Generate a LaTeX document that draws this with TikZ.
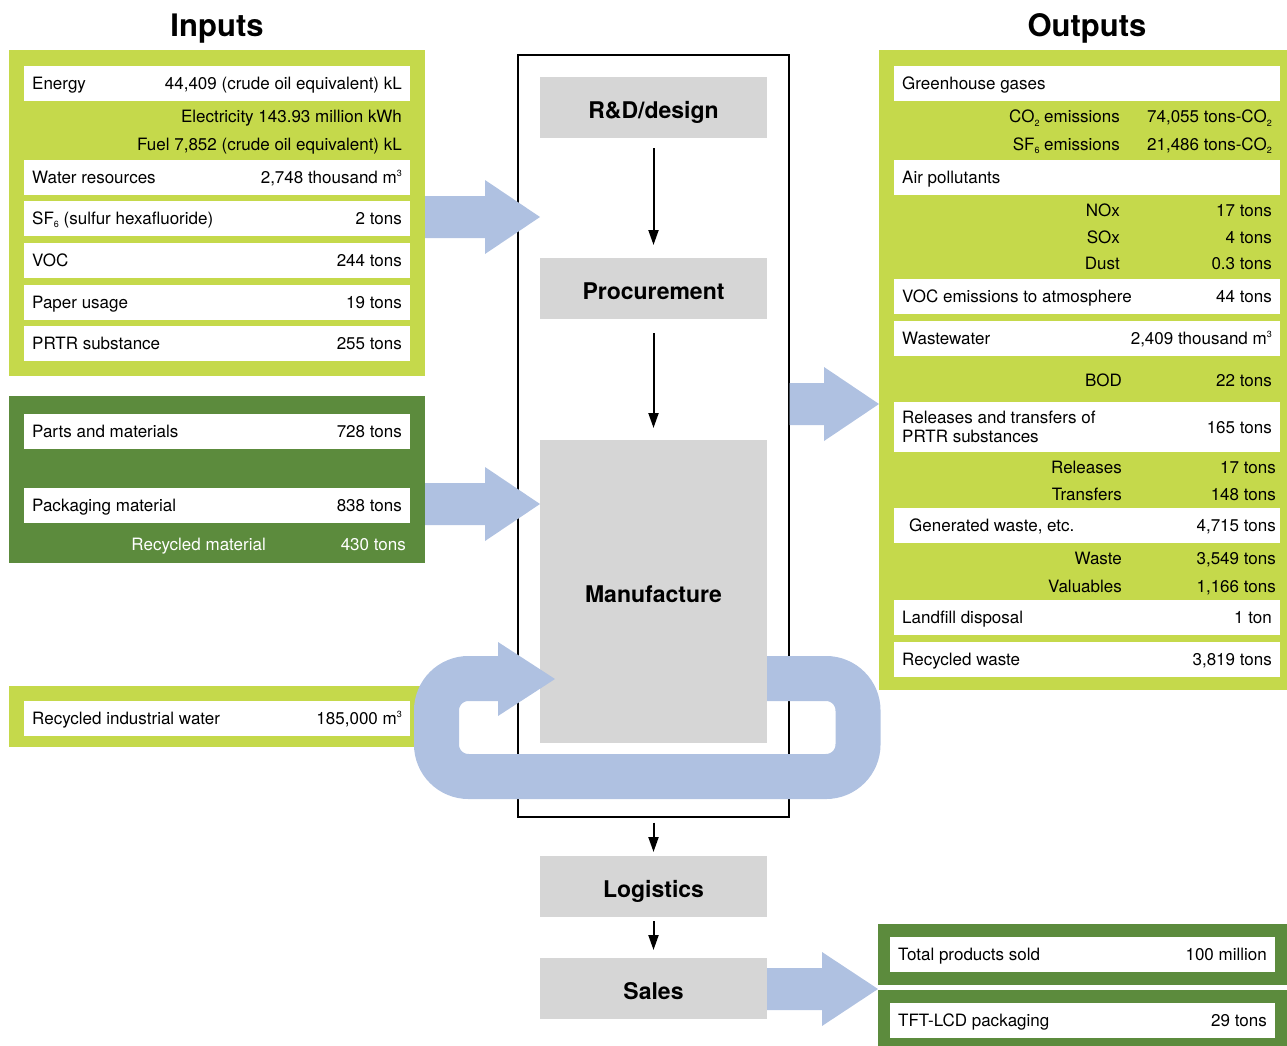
\documentclass[tikz,border=0pt]{standalone}
\usepackage{fontspec}
\setmainfont{TeX Gyre Heros}
\usetikzlibrary{arrows.meta,calc}
\definecolor{lgreen}{HTML}{C5D94B}
\definecolor{dgreen}{HTML}{5C8B3D}
\definecolor{flowblue}{HTML}{AFC1E1}
\definecolor{procgray}{HTML}{D6D6D6}
\newcommand\bodyfont{\fontsize{17}{19.5}\selectfont}
\newcommand\procfont{\fontsize{23}{27}\selectfont\bfseries}
\newcommand\titlefont{\fontsize{31}{36}\selectfont\bfseries}
\newcommand\sbs[1]{\raisebox{-0.35ex}{\fontsize{9}{9}\selectfont #1}}
\newcommand\sps[1]{\raisebox{0.75ex}{\fontsize{9}{9}\selectfont #1}}
\newcommand\drow[6]{%
  \node[wrow, minimum width=#4pt] (#1) at (#2,#3) {};
  \node[lt] (#1-l) at ([xshift=8pt]#1.west) {#5};
  \node[rt] (#1-r) at ([xshift=-8pt]#1.east) {#6};}
\newcommand\blockarrow[4]{%
  \coordinate (ba-s) at (#1 |- 0,#3);
  \coordinate (ba-t) at (#2 |- 0,#3);
  \fill[flowblue] ($(ba-s)+(0,-21)$) -- ($(ba-t)+(-#4,-21)$) -- ($(ba-t)+(-#4,-37)$) -- (ba-t)
    -- ($(ba-t)+(-#4,37)$) -- ($(ba-t)+(-#4,21)$) -- ($(ba-s)+(0,21)$) -- cycle;}
\begin{document}
\begin{tikzpicture}[x=1pt,y=-1pt,
  panel/.style={anchor=north west, inner sep=0pt, outer sep=0pt},
  wrow/.style={fill=white, anchor=north west, inner sep=0pt, outer sep=0pt, minimum height=35pt},
  lt/.style={anchor=west, inner sep=0pt, font=\bodyfont, text height=12pt, text depth=0pt},
  rt/.style={anchor=east, inner sep=0pt, font=\bodyfont, text height=12pt, text depth=0pt},
  pbox/.style={fill=procgray, minimum width=227pt, minimum height=61pt, inner sep=0pt, outer sep=0pt,
    font=\procfont, text height=21pt, text depth=0pt},
  parr/.style={-{Triangle[length=15pt,width=10pt]}, line width=2pt},
  ttl/.style={anchor=base, font=\titlefont}]
\useasboundingbox (0,0) rectangle (1287,1046);

% titles
\node[ttl] (inputs) at (217,37) {Inputs};
\node[ttl] (outputs) at (1087,37) {Outputs};

% input panels
\node[panel, fill=lgreen, minimum width=416pt, minimum height=326pt] (in1) at (9,50) {};
\drow{energy}{24}{66}{386}{Energy}{44,409 (crude oil equivalent) kL}
\node[rt] (elec) at (402,117) {Electricity 143.93 million kWh};
\node[rt] (fuel) at (402,144) {Fuel 7,852 (crude oil equivalent) kL};
\drow{water}{24}{160}{386}{Water resources}{2,748 thousand m\sps{3}}
\drow{sfsix}{24}{201}{386}{SF\sbs{6} (sulfur hexafluoride)}{2 tons}
\drow{voc}{24}{243}{386}{VOC}{244 tons}
\drow{paper}{24}{285}{386}{Paper usage}{19 tons}
\drow{prtr}{24}{326}{386}{PRTR substance}{255 tons}

\node[panel, fill=dgreen, minimum width=416pt, minimum height=167pt] (in2) at (9,396) {};
\drow{parts}{24}{414}{386}{Parts and materials}{728 tons}
\drow{pack}{24}{488}{386}{Packaging material}{838 tons}
\node[rt, text=white] (recmat) at (266,544) {Recycled material};
\node[rt, text=white] (recmatv) at (406,544) {430 tons};

\node[panel, fill=lgreen, minimum width=416pt, minimum height=61pt] (in3) at (9,686) {};
\drow{rwater}{24}{701}{386}{Recycled industrial water}{185,000 m\sps{3}}

% output panel
\node[panel, fill=lgreen, minimum width=408pt, minimum height=640pt] (out) at (879,50) {};
\drow{ghg}{894}{66}{386}{Greenhouse gases}{}
\node[rt] (co2l) at (1120,117) {CO\sbs{2} emissions};
\node[rt] (co2v) at (1272,117) {74,055 tons-CO\sbs{2}};
\node[rt] (sf6l) at (1120,144) {SF\sbs{6} emissions};
\node[rt] (sf6v) at (1272,144) {21,486 tons-CO\sbs{2}};
\drow{air}{894}{160}{386}{Air pollutants}{}
\node[rt] (noxl) at (1120,210) {NOx};
\node[rt] (noxv) at (1272,210) {17 tons};
\node[rt] (soxl) at (1120,237) {SOx};
\node[rt] (soxv) at (1272,237) {4 tons};
\node[rt] (dustl) at (1120,263) {Dust};
\node[rt] (dustv) at (1272,263) {0.3 tons};
\drow{vocem}{894}{279}{386}{VOC emissions to atmosphere}{44 tons}
\drow{wwater}{894}{321}{386}{Wastewater}{2,409 thousand m\sps{3}}
\node[rt] (bodl) at (1122,380) {BOD};
\node[rt] (bodv) at (1272,380) {22 tons};
\node[wrow, minimum width=386pt, minimum height=50pt] (rel) at (894,402) {};
\node[anchor=west, inner sep=0pt, font=\bodyfont, align=left] (rel-l) at ([xshift=8pt]rel.west) {Releases and transfers of\\PRTR substances};
\node[rt] (rel-r) at ([xshift=-8pt]rel.east) {165 tons};
\node[rt] (relsl) at (1122,467) {Releases};
\node[rt] (relsv) at (1276,467) {17 tons};
\node[rt] (trfl) at (1122,494) {Transfers};
\node[rt] (trfv) at (1276,494) {148 tons};
\node[wrow, minimum width=386pt] (gen) at (894,508) {};
\node[lt] (gen-l) at ([xshift=15pt]gen.west) {Generated waste, etc.};
\node[rt] (gen-r) at ([xshift=-4pt]gen.east) {4,715 tons};
\node[rt] (wastel) at (1122,558) {Waste};
\node[rt] (wastev) at (1276,558) {3,549 tons};
\node[rt] (vall) at (1122,586) {Valuables};
\node[rt] (valv) at (1276,586) {1,166 tons};
\drow{landfill}{894}{600}{386}{Landfill disposal}{1 ton}
\drow{recw}{894}{642}{386}{Recycled waste}{3,819 tons}

% product panels
\node[panel, fill=dgreen, minimum width=409pt, minimum height=61pt] (prod1) at (878,924) {};
\drow{sold}{890}{937}{385}{Total products sold}{100 million}
\node[panel, fill=dgreen, minimum width=409pt, minimum height=56pt] (prod2) at (878,990) {};
\drow{tft}{890}{1003}{385}{TFT-LCD packaging}{29 tons}

% process frame and boxes
\node[draw, line width=1.3pt, minimum width=271pt, minimum height=762pt, inner sep=0pt] (frame) at (653.5,436) {};
\node[pbox] (rd) at (653.5,107.5) {R\&D/design};
\node[pbox] (proc) at (653.5,288.5) {Procurement};
\node[pbox, minimum height=303pt] (manu) at (653.5,591.5) {Manufacture};
\node[pbox] (logi) at (653.5,886.5) {Logistics};
\node[pbox] (sales) at (653.5,988.5) {Sales};

\draw[parr, shorten <=10pt, shorten >=13pt] (rd.south) -- (proc.north);
\draw[parr, shorten <=14pt, shorten >=12pt] (proc.south) -- (manu.north);
\draw[parr, shorten <=5pt, shorten >=4pt] (frame.south) -- (logi.north);
\draw[parr, shorten <=4pt, shorten >=8pt] (logi.south) -- (sales.north);

% recycling loop
\draw[flowblue, line width=45pt, rounded corners=32pt] (manu.east |- 0,678.5) -- (858,678.5) -- (858,776.5)
  -- (436.5,776.5) -- (436.5,678.5) -- (498,678.5);
\fill[flowblue] (498,642) -- (555,679) -- (498,716) -- cycle;

% block arrows
\blockarrow{in1.east}{rd.west}{217}{55}
\blockarrow{in2.east}{manu.west}{504}{55}
\blockarrow{frame.east}{out.west}{404}{55}
\blockarrow{sales.east}{prod1.west}{989}{56}
\end{tikzpicture}
\end{document}
